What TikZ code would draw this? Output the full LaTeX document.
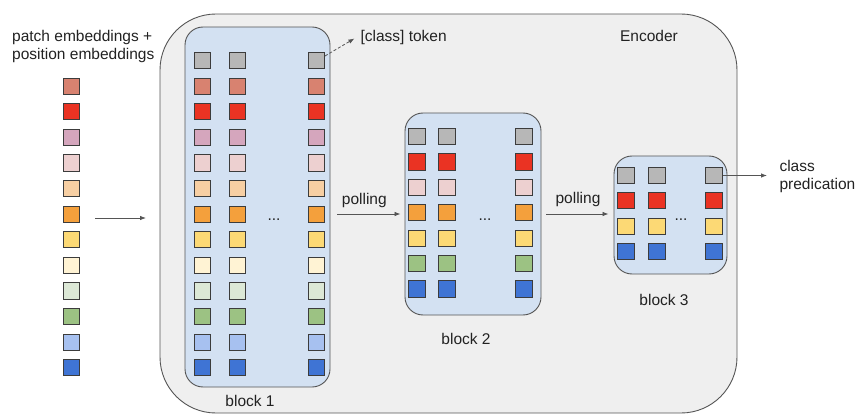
\documentclass[tikz,border=0pt]{standalone}
\usepackage{fontspec}
\setmainfont{Liberation Sans}
\usetikzlibrary{arrows.meta,positioning,calc}
\definecolor{encfill}{HTML}{EFEFEF}
\definecolor{blkfill}{HTML}{D3E1F2}
\definecolor{edge}{HTML}{555555}
\definecolor{txt}{HTML}{222222}
\definecolor{tgray}{HTML}{B7B7B7}
\definecolor{tsalmon}{HTML}{D88270}
\definecolor{tred}{HTML}{EA3323}
\definecolor{tmauve}{HTML}{D5A6BD}
\definecolor{tpink}{HTML}{EDD0D0}
\definecolor{tpeach}{HTML}{F7CFA3}
\definecolor{torange}{HTML}{F4A03C}
\definecolor{tyellow}{HTML}{FCD975}
\definecolor{tcream}{HTML}{FFF3D4}
\definecolor{tlgreen}{HTML}{DCE8D6}
\definecolor{tgreen}{HTML}{9CC283}
\definecolor{tlblue}{HTML}{A7C1F0}
\definecolor{tblue}{HTML}{3F74D4}

\tikzset{
  tok/.style={draw=edge!70!black, line width=0.9pt, minimum size=16.2pt, inner sep=0pt},
  blk/.style={draw=edge, line width=0.9pt, fill=blkfill, rounded corners=18pt, inner sep=0pt},
  lbl/.style={text=txt, font=\fontsize{15.5}{18}\selectfont},
  arr/.style={draw=edge, line width=0.8pt, -{Latex[length=6pt,width=4.5pt]}},
}

\begin{document}
\begin{tikzpicture}[x=1pt,y=-1pt]
  \useasboundingbox (0,0) rectangle (856,414);

  % encoder and blocks
  \node[draw=edge, line width=0.9pt, fill=encfill, rounded corners=56pt, minimum width=577pt, minimum height=399pt] (enc) at (448.5,213.5) {};
  \node[blk, minimum width=145pt, minimum height=360pt] (b1) at (257.5,207) {};
  \node[blk, minimum width=136pt, minimum height=202pt] (b2) at (473,214) {};
  \node[blk, minimum width=113pt, minimum height=118pt] (b3) at (670.5,215) {};

  % input embeddings
  \foreach \c [count=\i] in {tsalmon,tred,tmauve,tpink,tpeach,torange,tyellow,tcream,tlgreen,tgreen,tlblue,tblue}
    \node[tok, fill=\c] (e\i) at (71.5,{60.5+25.6*\i}) {};

  % block 1 tokens
  \foreach \x/\n in {202.5/a,237.5/b,316.5/c}
    \foreach \c [count=\i] in {tgray,tsalmon,tred,tmauve,tpink,tpeach,torange,tyellow,tcream,tlgreen,tgreen,tlblue,tblue}
      \node[tok, fill=\c] (b1\n\i) at (\x,{60.5+25.6*(\i-1)}) {};

  % block 2 tokens
  \foreach \x/\n in {417/a,447/b,524/c}
    \foreach \c [count=\i] in {tgray,tred,tpink,torange,tyellow,tgreen,tblue}
      \node[tok, fill=\c] (b2\n\i) at (\x,{136.5+25.4*(\i-1)}) {};

  % block 3 tokens
  \foreach \x/\n in {626/a,657/b,714/c}
    \foreach \c [count=\i] in {tgray,tred,tyellow,tblue}
      \node[tok, fill=\c] (b3\n\i) at (\x,{175.5+25.3*(\i-1)}) {};

  \node[lbl, anchor=base] (d1) at (274,220) {...};
  \node[lbl, anchor=base] (d2) at (485,220) {...};
  \node[lbl, anchor=base] (d3) at (681,220) {...};

  % labels
  \node[lbl, align=left, anchor=west, inner sep=0pt] (inlbl) at (12,46) {patch embeddings +\\position embeddings};
  \node[lbl, anchor=west] (cls) at (357,37) {[class] token};
  \node[lbl] (enclbl) at (649,36) {Encoder};
  \node[lbl, align=left, anchor=west] (cp) at (776,176) {class\\predication};
  \node[lbl] (l1) at ($(b1.south)+(-7.5,14)$) {block 1};
  \node[lbl] (l2) at ($(b2.south)+(-7,24)$) {block 2};
  \node[lbl] (l3) at ($(b3.south)+(-6.5,26)$) {block 3};

  % arrows
  \coordinate (inA) at (95,218);
  \coordinate (inB) at (146,218);
  \draw[arr] (inA) -- (inB);
  \draw[arr, shorten >=4pt] ($(b1.east |- b2.west)+(7,0)$) -- node[lbl, above=3pt, pos=0.4] {polling} (b2.west);
  \draw[arr, shorten >=5pt] ($(b2.east)+(5,0)$) -- node[lbl, above=4pt, pos=0.47] {polling} (b2.east -| b3.west);
  \draw[arr, dash pattern=on 3pt off 2pt, shorten >=3pt] ($(b1c1.north east)+(0,4)$) -- (cls.west);
  \draw[arr, shorten >=9pt] (b3c1.east) -- (cp.west |- b3c1.east);
\end{tikzpicture}
\end{document}
